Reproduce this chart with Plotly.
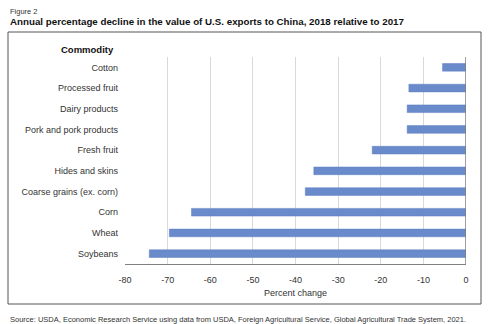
import plotly.graph_objects as go

categories = ["Cotton", "Processed fruit", "Dairy products", "Pork and pork products",
              "Fresh fruit", "Hides and skins", "Coarse grains (ex. corn)", "Corn",
              "Wheat", "Soybeans"]
values = [-5.5, -13.4, -13.8, -13.8, -22.0, -35.7, -37.7, -64.4, -69.6, -74.3]
x_ticks = [-80, -70, -60, -50, -40, -30, -20, -10, 0]
x_tick_labels = ["-80", "-70", "-60", "-50", "-40", "-30", "-20", "-10", "0"]

W, H = 494, 324
ML, MR, MT, MB = 125, 28, 57, 60
pw, ph = W - ML - MR, H - MT - MB

def px(x):
    return (x - ML) / pw

def py(y):
    return 1 - (y - MT) / ph

FONT = "Liberation Sans, Arial, sans-serif"

fig = go.Figure(go.Bar(
    y=categories, x=values, orientation="h",
    marker=dict(color="#6a8bcb", line=dict(color="#5a7cbf", width=0.5)),
    width=0.37,
))

fig.update_layout(
    width=W, height=H,
    margin=dict(l=ML, r=MR, t=MT, b=MB),
    paper_bgcolor="white", plot_bgcolor="white",
    showlegend=False,
    font=dict(family=FONT, size=9, color="#333333"),
    xaxis=dict(range=[-80, 0], tickvals=x_ticks, ticktext=x_tick_labels,
               showgrid=True, gridcolor="#d9d9d9",
               gridwidth=1, zeroline=False, showline=True, linecolor="#808080",
               linewidth=1, ticks="", ticklabelstandoff=7,
               tickfont=dict(size=9, color="#333333"),
               title=dict(text="Percent change", font=dict(size=9, color="#333333"), standoff=5)),
    yaxis=dict(categoryorder="array", categoryarray=categories[::-1], showgrid=False,
               zeroline=False, showline=False, ticks="", ticklabelstandoff=6,
               tickfont=dict(size=9, color="#333333")),
    shapes=[
        dict(type="line", xref="x", yref="paper", x0=0, x1=0, y0=0, y1=1,
             line=dict(color="#7f7f7f", width=1.5)),
        dict(type="rect", xref="paper", yref="paper", x0=px(8), x1=px(481),
             y0=py(304), y1=py(32), line=dict(color="#555555", width=1), layer="below"),
    ],
    annotations=[
        dict(text="Figure 2", xref="paper", yref="paper", x=px(8), y=py(12),
             xanchor="left", yanchor="middle", showarrow=False,
             font=dict(size=7.5, color="#333333")),
        dict(text="<b>Annual percentage decline in the value of U.S. exports to China, 2018 relative to 2017</b>",
             xref="paper", yref="paper", x=px(8), y=py(22), xanchor="left", yanchor="middle",
             showarrow=False, font=dict(size=9.75, color="#111111")),
        dict(text="<b>Commodity</b>", xref="paper", yref="paper", x=px(116), y=py(49),
             xanchor="right", yanchor="middle", showarrow=False,
             font=dict(size=9.5, color="#111111")),
        dict(text="Source: USDA, Economic Research Service using data from USDA, Foreign Agricultural Service, Global Agricultural Trade System, 2021.",
             xref="paper", yref="paper", x=px(8), y=py(319), xanchor="left", yanchor="middle",
             showarrow=False, font=dict(size=7.5, color="#333333")),
    ],
)

fig.write_html("out.html")
